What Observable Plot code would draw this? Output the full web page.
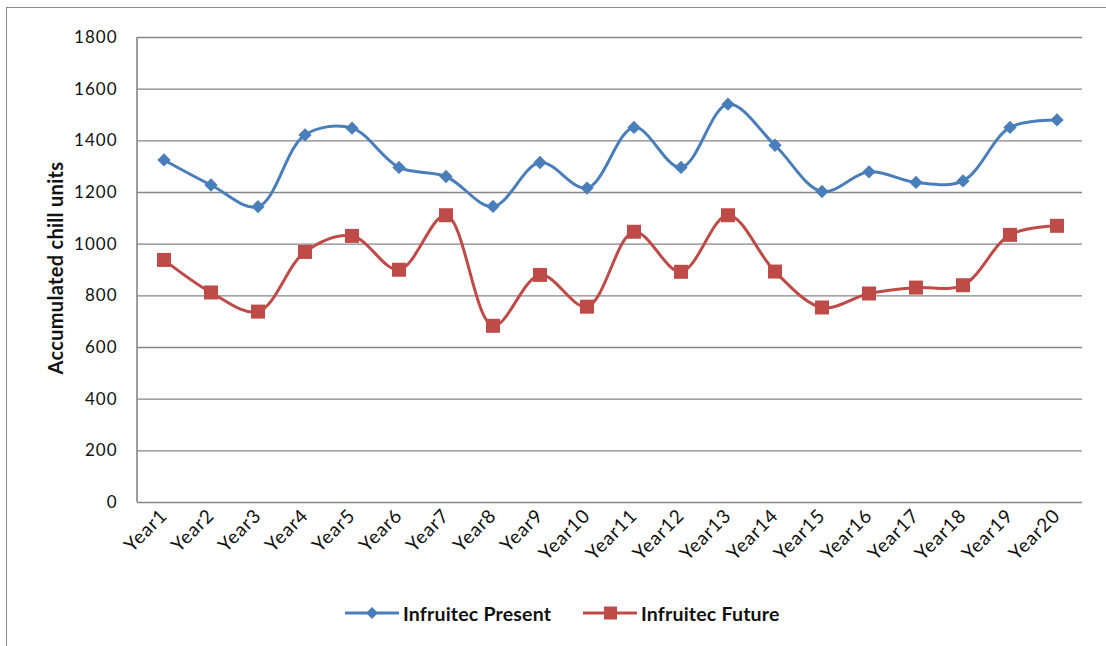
<!DOCTYPE html>
<html>
<head>
<meta charset="utf-8">
<script src="https://cdn.jsdelivr.net/npm/d3@7"></script>
<script src="https://cdn.jsdelivr.net/npm/@observablehq/plot@0.6"></script>
<style>
  html, body { margin: 0; padding: 0; background: #fff; overflow: hidden; }
  body { width: 1106px; height: 646px; position: relative; font-family: Lato, "Open Sans", sans-serif; }
  #frame { position: absolute; left: 6px; top: 7px; width: 1200px; height: 800px;
           border-top: 1.5px solid #8c8c8c; border-left: 1.5px solid #8c8c8c; box-sizing: border-box; }
  #chart { position: absolute; left: 0; top: 0; }
  #legend { position: absolute; top: 601px; left: 0; width: 1106px; height: 24px; }
  .item { position: absolute; top: 0; display: flex; align-items: center; height: 24px;
          font-weight: bold; font-size: 19.5px; color: #111; letter-spacing: 0.2px; }
  .item svg { margin-right: 4px; }
</style>
</head>
<body>
<div id="frame"></div>
<div id="chart"></div>
<div id="legend"></div>
<script>
const years = ["Year1","Year2","Year3","Year4","Year5","Year6","Year7","Year8","Year9","Year10",
               "Year11","Year12","Year13","Year14","Year15","Year16","Year17","Year18","Year19","Year20"];
const present = [1326,1229,1145,1423,1449,1297,1262,1146,1316,1217,1452,1297,1542,1383,1204,1280,1239,1245,1452,1481];
const future  = [939,813,739,970,1032,901,1112,684,881,758,1048,893,1112,894,755,809,832,841,1036,1071];
const yTicks = [0,200,400,600,800,1000,1200,1400,1600,1800];
const seriesNames = ["Infruitec Present", "Infruitec Future"];
const yTitle = "Accumulated chill units";
const colors = ["#4a7ebb", "#be4b48"];

const dPresent = years.map((y, i) => ({year: y, value: present[i]}));
const dFuture  = years.map((y, i) => ({year: y, value: future[i]}));

const plot = Plot.plot({
  width: 1106,
  height: 580,
  marginLeft: 137,
  marginRight: 24,
  marginTop: 37,
  marginBottom: 78,
  style: {fontFamily: "Lato, 'Open Sans', sans-serif", fontSize: "17px", color: "#111", background: "transparent"},
  x: {type: "band", domain: years, padding: 0, label: null},
  y: {domain: [0, 1800], label: null},
  marks: [
    Plot.gridY(yTicks.filter(t => t > 0), {stroke: "#868686", strokeOpacity: 1, strokeWidth: 1.4}),
    Plot.ruleY([0], {stroke: "#868686", strokeWidth: 1.6}),
    Plot.axisX({tickSize: 0, tickRotate: -45, tickPadding: 10, fontSize: 19, label: null, className: "xax"}),
    Plot.axisY({ticks: yTicks, tickSize: 0, tickPadding: 20, fontSize: 17, tickFormat: d => String(d), label: null, className: "yax"}),
    Plot.line(dFuture, {x: "year", y: "value", stroke: colors[1], strokeWidth: 3, curve: "catmull-rom"}),
    Plot.dot(dFuture, {x: "year", y: "value", symbol: "square", r: 7.9, fill: colors[1], stroke: "none"}),
    Plot.line(dPresent, {x: "year", y: "value", stroke: colors[0], strokeWidth: 3, curve: "catmull-rom"}),
    Plot.dot(dPresent, {x: "year", y: "value", symbol: "diamond2", r: 6, fill: colors[0], stroke: "none"}),
    Plot.text([yTitle], {frameAnchor: "left", textAnchor: "middle", dx: -81, dy: -2, rotate: -90, fontWeight: "bold", fontSize: 20})
  ]
});
document.getElementById("chart").appendChild(plot);
const svg = d3.select(plot);
svg.selectAll("text").filter(function() { return this.textContent === yTitle; }).style("letter-spacing", "0.3px");
svg.selectAll(".xax text").style("letter-spacing", "0.8px");
svg.selectAll(".yax text").style("letter-spacing", "1px");
// left axis line
svg.append("line").attr("x1", 137).attr("x2", 137).attr("y1", 37).attr("y2", 502)
  .attr("stroke", "#868686").attr("stroke-width", 1.6);

// legend
const legend = document.getElementById("legend");
const items = [
  {name: seriesNames[0], color: colors[0], sym: "diamond", left: 345},
  {name: seriesNames[1], color: colors[1], sym: "square", left: 583}
];
items.forEach(it => {
  const div = document.createElement("div");
  div.className = "item";
  div.style.left = it.left + "px";
  const marker = it.sym === "diamond"
    ? `<path d="M27,6 L33,12 L27,18 L21,12 Z" fill="${it.color}"/>`
    : `<rect x="21" y="5.5" width="13" height="13" fill="${it.color}"/>`;
  div.innerHTML = `<svg width="54" height="24"><line x1="0" x2="54" y1="12" y2="12" stroke="${it.color}" stroke-width="3"/>${marker}</svg><span>${it.name}</span>`;
  legend.appendChild(div);
});
</script>
</body>
</html>
